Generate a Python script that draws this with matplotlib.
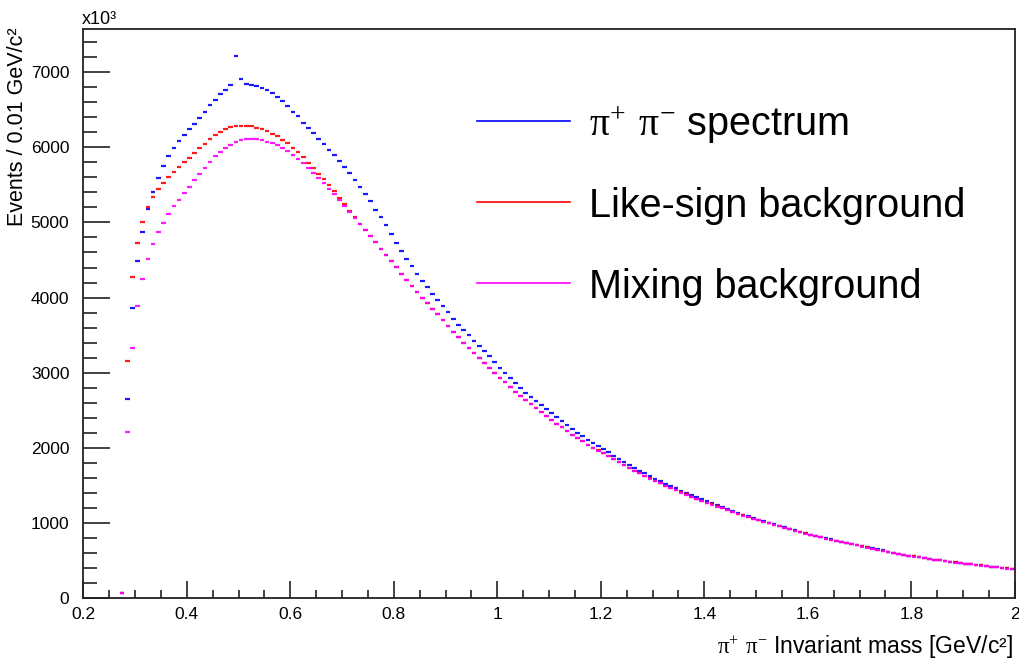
import numpy as np
import matplotlib
matplotlib.use("Agg")
import matplotlib.pyplot as plt
from matplotlib.lines import Line2D
from matplotlib.ticker import MultipleLocator, FuncFormatter

plt.rcParams['font.family'] = ['Liberation Sans', 'DejaVu Sans']
plt.rcParams['mathtext.fontset'] = 'custom'
plt.rcParams['mathtext.rm'] = 'Liberation Serif'
plt.rcParams['mathtext.default'] = 'rm'

# binning of the histograms [GeV/c^2]
mass_lo = 0.27
bin_w = 0.01

# bin contents (x10^3 events), first bin is 0.27-0.28
spectrum = [70, 2650, 3860, 4480, 4877, 5176, 5406, 5589, 5748, 5881,
            5996, 6085, 6165, 6240, 6310, 6382, 6475, 6565, 6631, 6702,
            6755, 6826, 7208, 6907, 6840, 6822, 6813, 6786, 6755, 6715,
            6662, 6609, 6542, 6475, 6409, 6328, 6262, 6186, 6110, 6039,
            5963, 5893, 5815, 5737, 5655, 5564, 5471, 5376, 5278, 5170,
            5068, 4962, 4842, 4726, 4618, 4515, 4418, 4317, 4222, 4139,
            4051, 3972, 3884, 3804, 3718, 3637, 3568, 3497, 3424, 3360,
            3293, 3220, 3140, 3063, 2996, 2925, 2863, 2799, 2735, 2677,
            2620, 2566, 2517, 2464, 2407, 2354, 2301, 2247, 2202, 2158,
            2109, 2065, 2025, 1985, 1942, 1899, 1857, 1815, 1774, 1736,
            1698, 1661, 1625, 1590, 1557, 1524, 1492, 1461, 1431, 1402,
            1373, 1345, 1317, 1290, 1264, 1237, 1211, 1185, 1160, 1136,
            1113, 1090, 1068, 1047, 1026, 1005, 985, 965, 946, 926,
            906, 886, 866, 847, 831, 815, 799, 783, 767, 752,
            737, 722, 707, 692, 678, 664, 650, 636, 622, 609,
            595, 582, 569, 557, 546, 536, 526, 516, 506, 497,
            488, 479, 470, 461, 453, 445, 437, 429, 421, 413,
            405, 398, 391]

likesign = [70, 3150, 4270, 4730, 5007, 5203, 5340, 5450, 5530, 5610,
            5672, 5739, 5802, 5855, 5921, 5983, 6045, 6108, 6161, 6209,
            6241, 6265, 6278, 6285, 6285, 6276, 6260, 6238, 6212, 6182,
            6143, 6098, 6050, 5992, 5931, 5868, 5796, 5722, 5646, 5572,
            5492, 5412, 5327, 5243, 5150, 5066, 4980, 4904, 4821, 4737,
            4652, 4571, 4484, 4404, 4318, 4235, 4159, 4075, 3999, 3927,
            3852, 3777, 3702, 3622, 3547, 3473, 3401, 3335, 3264, 3193,
            3127, 3061, 2998, 2936, 2874, 2812, 2749, 2692, 2639, 2586,
            2533, 2479, 2426, 2373, 2324, 2276, 2227, 2178, 2134, 2090,
            2045, 2005, 1967, 1930, 1893, 1854, 1814, 1774, 1735, 1699,
            1663, 1628, 1594, 1561, 1529, 1498, 1468, 1438, 1409, 1381,
            1353, 1326, 1299, 1273, 1248, 1222, 1197, 1172, 1148, 1125,
            1103, 1081, 1059, 1038, 1018, 998, 978, 959, 940, 921,
            901, 882, 862, 843, 827, 811, 795, 780, 764, 749,
            734, 720, 705, 690, 676, 662, 648, 635, 621, 608,
            594, 581, 568, 556, 545, 535, 525, 515, 505, 496,
            487, 478, 469, 461, 453, 445, 437, 429, 421, 413,
            405, 398, 391]

mixing = [70, 2210, 3325, 3890, 4250, 4510, 4713, 4870, 4997, 5117,
          5220, 5304, 5389, 5473, 5562, 5642, 5730, 5809, 5881, 5935,
          5988, 6036, 6072, 6099, 6108, 6108, 6108, 6094, 6072, 6059,
          6028, 5992, 5948, 5895, 5846, 5789, 5726, 5660, 5593, 5519,
          5443, 5376, 5296, 5217, 5141, 5053, 4977, 4902, 4818, 4734,
          4649, 4569, 4481, 4402, 4316, 4233, 4157, 4073, 3997, 3925,
          3850, 3775, 3700, 3620, 3545, 3471, 3399, 3333, 3262, 3191,
          3125, 3059, 2996, 2934, 2872, 2810, 2747, 2690, 2637, 2584,
          2531, 2477, 2424, 2371, 2322, 2274, 2225, 2176, 2132, 2088,
          2043, 2003, 1965, 1928, 1891, 1852, 1812, 1772, 1733, 1697,
          1661, 1626, 1592, 1559, 1527, 1496, 1466, 1436, 1407, 1379,
          1351, 1324, 1297, 1271, 1246, 1220, 1195, 1170, 1146, 1123,
          1101, 1079, 1057, 1036, 1016, 996, 976, 957, 938, 919,
          899, 880, 860, 841, 825, 809, 793, 778, 762, 747,
          732, 718, 703, 688, 674, 660, 646, 633, 619, 606,
          592, 579, 566, 554, 543, 533, 523, 513, 503, 494,
          485, 476, 467, 459, 451, 443, 435, 427, 419, 411,
          403, 396, 389]

labels = [r'$\pi^{+}\ \pi^{-}$ spectrum', 'Like-sign background', 'Mixing background']
colors = ['#0000ff', '#ff0000', '#ff00ff']

W, H = 1020, 670
fig = plt.figure(figsize=(W / 100, H / 100), dpi=100)
ax = fig.add_axes([83.3 / W, 71.7 / H, 931.5 / W, 569 / H])

# horizontal bin-width bars, like ROOT "E" drawing
for vals, c in zip([spectrum, likesign, mixing], colors):
    vals = np.array(vals)
    lo = mass_lo + bin_w * np.arange(len(vals))
    ax.hlines(vals, lo + 0.0005, lo + bin_w - 0.0005, colors=c, lw=1.6, alpha=0.9)

ax.set_xlim(0.2, 2.0)
ax.set_ylim(0, 1.05 * max(spectrum))

ax.xaxis.set_major_locator(MultipleLocator(0.2))
ax.xaxis.set_minor_locator(MultipleLocator(0.05))
ax.yaxis.set_major_locator(MultipleLocator(1000))
ax.yaxis.set_minor_locator(MultipleLocator(200))
ax.xaxis.set_major_formatter(FuncFormatter(lambda v, p: '%g' % round(v, 2)))
ax.yaxis.set_major_formatter(FuncFormatter(lambda v, p: '%d' % v))

ax.tick_params(which='both', direction='in', top=False, right=False,
               width=1.2, color='#222222', labelsize=12.5)
ax.tick_params(axis='y', which='major', length=19.5, pad=10)
ax.tick_params(axis='y', which='minor', length=10)
ax.tick_params(axis='x', which='major', length=12, pad=6)
ax.tick_params(axis='x', which='minor', length=6)
for s in ax.spines.values():
    s.set_linewidth(1.3)
    s.set_color('#222222')

fig.text(18 / W, 1 - 27 / H, 'Events / 0.01 GeV/c²', rotation=90,
         ha='center', va='top', fontsize=15.5)
fig.text(1013 / W, 1 - 653 / H, r'$\pi^{+}\ \pi^{-}$ Invariant mass [GeV/c²]',
         ha='right', va='baseline', fontsize=16.5)
fig.text(82 / W, 1 - 24 / H, 'x10³', ha='left', va='baseline', fontsize=13)

# legend, no frame
leg_y = [120.7, 201.7, 282.7]
for y, lab, c in zip(leg_y, labels, colors):
    fig.add_artist(Line2D([476.7 / W, 570 / W], [1 - y / H, 1 - y / H],
                          color=c, lw=1.2, transform=fig.transFigure))
    fig.text(589 / W, 1 - (y + 15) / H, lab, ha='left', va='baseline', fontsize=28.5)

fig.savefig('out.png', dpi=100)
